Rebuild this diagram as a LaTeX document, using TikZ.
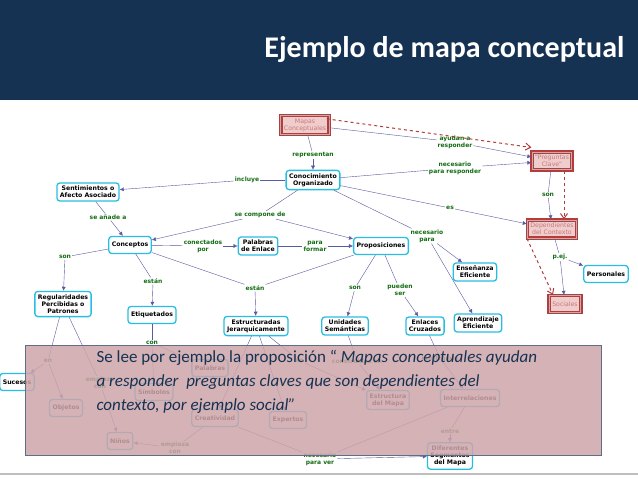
\documentclass[tikz,border=0pt]{standalone}
\usepackage{fontspec}
\setmainfont{Carlito}
\newfontfamily\mapfont{DejaVu Sans}
\usetikzlibrary{arrows.meta}
\definecolor{navy}{RGB}{22,50,82}
\definecolor{boxcyan}{RGB}{40,190,225}
\definecolor{lblgreen}{RGB}{20,110,20}
\definecolor{pinkfill}{RGB}{240,205,205}
\definecolor{pinkdraw}{RGB}{180,60,60}
\definecolor{veil}{RGB}{205,165,170}
\definecolor{arrblue}{RGB}{20,20,120}
\tikzset{
  concept/.style={draw=boxcyan, line width=1.3pt, rounded corners=3pt, fill=white,
    align=center, font=\mapfont\bfseries\fontsize{6.2}{7.2}\selectfont, inner sep=3pt, minimum height=17pt},
  keybox/.style={concept, draw=pinkdraw, fill=pinkfill, rounded corners=0pt, text=pinkdraw!70,
    font=\mapfont\fontsize{6.2}{7.2}\selectfont, double=pinkfill!60!gray, double distance=1pt},
  lbl/.style={align=center, text=lblgreen, fill=white, inner sep=1pt,
    font=\mapfont\bfseries\fontsize{6}{7}\selectfont},
  link/.style={draw=arrblue!70, thin},
  arr/.style={link, -{Latex[length=4pt,width=4pt]}},
  redarr/.style={draw=pinkdraw, dashed, line width=1pt, -{Straight Barb[length=5pt,width=7pt]}},
}
\newcommand\linkvia[3]{\draw[link] (#1) -- (#2); \draw[arr] (#2) -- (#3);}
\begin{document}
\begin{tikzpicture}[x=1pt,y=-1pt]
\useasboundingbox (0,0) rectangle (638,479);
\fill[white] (0,0) rectangle (638,479);
% title bar
\fill[navy] (0,0) rectangle (638,100);
\node[text=white, font=\bfseries\fontsize{30}{34}\selectfont, anchor=east] (title) at (628,50) {Ejemplo de mapa conceptual};
\draw[gray!50, line width=1.5pt] (0,474) -- (638,474);

% concepts
\node[keybox] (mapas) at (305,125) {Mapas\\Conceptuales};
\node[concept] (conoc) at (313,180) {Conocimiento\\Organizado};
\node[concept] (sentim) at (88,192) {Sentimientos o\\Afecto Asociado};
\node[concept] (concep) at (130,245) {Conceptos};
\node[concept] (palenl) at (258,246) {Palabras\\de Enlace};
\node[concept] (propos) at (381,246) {Proposiciones};
\node[keybox] (pregun) at (552,161) {"Preguntas\\Clave"};
\node[keybox] (depend) at (552,229) {Dependientes\\del Contexto};
\node[concept] (ensena) at (475,272) {Enseñanza\\Eficiente};
\node[concept] (person) at (606,274) {Personales};
\node[keybox] (social) at (565,304) {Sociales};
\node[concept] (regula) at (63,304) {Regularidades\\Percibidas o\\Patrones};
\node[concept] (etique) at (152,315) {Etiquetados};
\node[concept] (estruc) at (256,326) {Estructuradas\\Jerarquicamente};
\node[concept] (unidad) at (345,326) {Unidades\\Semánticas};
\node[concept] (enlace) at (425,326) {Enlaces\\Cruzados};
\node[concept] (aprend) at (478,323) {Aprendizaje\\Eficiente};
% lower concepts (under the veil)
\node[concept] (suceso) at (17,382) {Sucesos};
\node[concept] (objeto) at (66,408) {Objetos};
\node[concept] (palabr) at (210,368) {Palabras};
\node[concept] (simbol) at (154,392) {Símbolos};
\node[concept] (creati) at (215,418) {Creatividad};
\node[concept] (expert) at (288,420) {Expertos};
\node[concept] (estrct) at (388,400) {Estructura\\del Mapa};
\node[concept] (interr) at (470,398) {Interrelaciones};
\node[concept] (ninos) at (120,441) {Niños};
\node[concept] (difere) at (450,456) {Diferentes\\Segmentos\\del Mapa};

% link words
\node[lbl] (l-repr) at (313,155) {representan};
\node[lbl] (l-ayud) at (455,142) {ayudan a\\responder};
\node[lbl] (l-incl) at (247,180) {incluye};
\node[lbl] (l-nece) at (455,168) {necesario\\para responder};
\node[lbl] (l-es) at (450,208) {es};
\node[lbl] (l-comp) at (260,215) {se compone de};
\node[lbl] (l-npar) at (427,236) {necesario\\para};
\node[lbl] (l-anad) at (108,217) {se añade a};
\node[lbl] (l-cone) at (203,246) {conectados\\por};
\node[lbl] (l-form) at (315,246) {para\\formar};
\node[lbl] (l-son1) at (65,257) {son};
\node[lbl] (l-esta1) at (153,281) {están};
\node[lbl] (l-esta2) at (255,288) {están};
\node[lbl] (l-son2) at (355,288) {son};
\node[lbl] (l-pued) at (400,290) {pueden\\ser};
\node[lbl] (l-son3) at (548,195) {son};
\node[lbl] (l-pej) at (560,257) {p.ej.};
\node[lbl] (l-en1) at (48,361) {en};
\node[lbl] (l-emp1) at (100,383) {empieza\\con};
\node[lbl] (l-con) at (152,343) {con};
\node[lbl] (l-en2) at (300,361) {en};
\node[lbl] (l-cons) at (357,361) {construidas en};
\node[lbl] (l-most) at (440,358) {mostrando};
\node[lbl] (l-entr) at (450,431) {entre};
\node[lbl] (l-emp2) at (175,448) {empieza\\con};
\node[lbl] (l-ver) at (320,459) {necesario\\para ver};

% connectors
\linkvia{mapas}{l-repr}{conoc}
\linkvia{mapas}{l-ayud}{pregun}
\linkvia{conoc}{l-incl}{sentim}
\linkvia{conoc}{l-nece}{pregun}
\linkvia{conoc}{l-es}{depend}
\linkvia{conoc}{l-comp}{concep}
\draw[arr] (l-comp) -- (propos);
\linkvia{conoc}{l-npar}{ensena}
\draw[arr] (l-npar) -- (aprend);
\linkvia{sentim}{l-anad}{concep}
\linkvia{concep}{l-cone}{palenl}
\linkvia{palenl}{l-form}{propos}
\linkvia{concep}{l-son1}{regula}
\linkvia{concep}{l-esta1}{etique}
\linkvia{concep}{l-esta2}{estruc}
\draw[link] (propos) -- (l-esta2);
\linkvia{propos}{l-son2}{unidad}
\linkvia{propos}{l-pued}{enlace}
\linkvia{pregun}{l-son3}{depend}
\linkvia{depend}{l-pej}{person}
\draw[arr] (l-pej) -- (social);
\linkvia{regula}{l-en1}{suceso}
\draw[arr] (l-en1) -- (objeto);
\linkvia{regula}{l-emp1}{ninos}
\linkvia{etique}{l-con}{palabr}
\draw[arr] (l-con) -- (simbol);
\draw[arr] (estruc) -- (creati);
\draw[arr] (estruc) -- (expert);
\linkvia{estruc}{l-en2}{estrct}
\linkvia{unidad}{l-cons}{estrct}
\linkvia{enlace}{l-most}{interr}
\linkvia{interr}{l-entr}{difere}
\linkvia{creati}{l-emp2}{ninos}
\linkvia{creati}{l-ver}{difere}
\draw[link] (interr) -- (l-ver);
% reading path
\draw[redarr] ([xshift=-3pt,yshift=-4pt]mapas.north east) -- ([yshift=4pt]pregun.north west);
\draw[redarr] ([xshift=12pt]pregun.south) -- ([xshift=12pt]depend.north);
\draw[redarr] ([xshift=-25pt]depend.south) -- ([xshift=-12pt]social.north);

% veil with the example sentence
\fill[veil, opacity=0.85] (25,345) rectangle (601,455);
\draw[navy!70] (25,345) rectangle (601,455);
\node[anchor=north west, align=left, text=navy, font=\fontsize{17}{24}\selectfont] (sentence) at (93,347)
  {Se lee por ejemplo la proposición “ \textit{Mapas conceptuales ayudan}\\
   \textit{a responder\ \ preguntas claves que son dependientes del}\\
   \textit{contexto, por ejemplo social”}};
\end{tikzpicture}
\end{document}
